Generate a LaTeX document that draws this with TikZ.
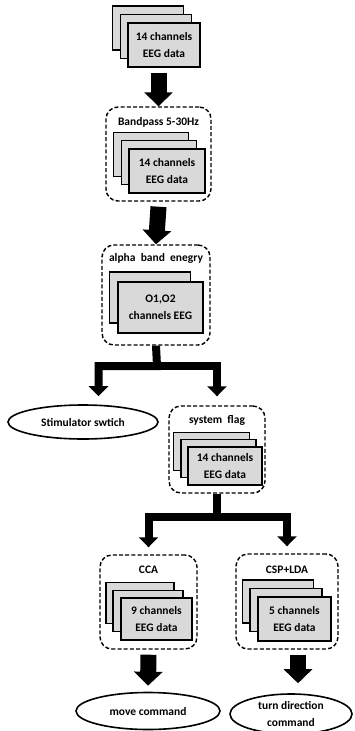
\documentclass[tikz,border=0pt]{standalone}
\usepackage{fontspec}
\setmainfont{Carlito}
\usetikzlibrary{arrows.meta,positioning,shapes.geometric}

\begin{document}
\begin{tikzpicture}[
  x=1pt,y=-1pt,
  every node/.style={font=\fontsize{11.5}{17.5}\selectfont\bfseries},
  sheet/.style={draw,line width=1.8pt,fill=black!15,align=center,inner sep=0pt},
  stagebox/.style={draw,line width=1.4pt,dash pattern=on 4pt off 2.2pt,rounded corners=12pt,inner sep=0pt},
  outbox/.style={draw,ellipse,line width=1.6pt,align=center,inner sep=0pt},
  fatarrow/.style={line width=16pt,-{Triangle[width=28pt,length=14pt]}},
  branch/.style={line width=8pt,miter limit=10,-{Triangle[width=19pt,length=10pt]}},
]
  \useasboundingbox (0,0) rectangle (354,731);

  % Raw data
  \node[sheet,minimum width=71pt,minimum height=44pt] (raw1) at (148,28) {};
  \node[sheet,minimum width=71pt,minimum height=44pt] (raw2) at (156,36.5) {};
  \node[sheet,minimum width=72pt,minimum height=44pt] (raw3) at (164,45) {14 channels\\EEG data};

  % Bandpass
  \node[stagebox,minimum width=105pt,minimum height=94pt] (bp) at (158.5,154) {};
  \node (bptitle) at (158.5,122) {Bandpass 5-30Hz};
  \node[sheet,minimum width=75pt,minimum height=44pt] (bp1) at (151,154.5) {};
  \node[sheet,minimum width=75pt,minimum height=44pt] (bp2) at (159,162.5) {};
  \node[sheet,minimum width=76pt,minimum height=44pt] (bp3) at (167,171) {14 channels\\EEG data};

  % Alpha band energy
  \node[stagebox,minimum width=108pt,minimum height=100pt] (alpha) at (156,295) {};
  \node (alphatitle) at (156,258) {alpha~ band~ enegry};
  \node[sheet,minimum width=81pt,minimum height=51pt] (al1) at (150,297.5) {};
  \node[sheet,minimum width=85pt,minimum height=51pt] (al2) at (160.5,307.5) {O1,O2\\channels EEG};

  % Stimulator switch
  \node[outbox,minimum width=150pt,minimum height=34pt] (stim) at (83,422) {Stimulator swtich};

  % System flag
  \node[stagebox,minimum width=96pt,minimum height=87pt] (flag) at (217,449.5) {};
  \node (flagtitle) at (217,420) {system~ flag};
  \node[sheet,minimum width=76pt,minimum height=38pt] (fl1) at (211.5,451.5) {};
  \node[sheet,minimum width=75pt,minimum height=38pt] (fl2) at (218.5,458.5) {};
  \node[sheet,minimum width=74pt,minimum height=38pt] (fl3) at (225,466) {14 channels\\EEG data};

  % CCA
  \node[stagebox,minimum width=97pt,minimum height=94pt] (cca) at (148.5,602) {};
  \node (ccatitle) at (148.5,570) {CCA};
  \node[sheet,minimum width=68pt,minimum height=41pt] (cc1) at (140,603) {};
  \node[sheet,minimum width=70pt,minimum height=41pt] (cc2) at (148,611) {};
  \node[sheet,minimum width=71pt,minimum height=42pt] (cc3) at (156.5,619) {9 channels\\EEG data};

  % CSP+LDA
  \node[stagebox,minimum width=102pt,minimum height=95pt] (csp) at (287,601.5) {};
  \node (csptitle) at (287,570) {CSP+LDA};
  \node[sheet,minimum width=71pt,minimum height=43pt] (cs1) at (278,601.5) {};
  \node[sheet,minimum width=72pt,minimum height=43pt] (cs2) at (286,610) {};
  \node[sheet,minimum width=73pt,minimum height=44pt] (cs3) at (294.5,619) {5 channels\\EEG data};

  % Commands
  \node[outbox,minimum width=144pt,minimum height=37pt] (move) at (148,711) {move command};
  \node[outbox,minimum width=122pt,minimum height=40pt] (turn) at (291,714) {turn direction\\command};

  % Arrows
  \draw[fatarrow] ([yshift=-5pt]raw3.south -| bp.north) -- (bp.north);
  \draw[fatarrow] ([yshift=-5pt]bp.south) -- (alpha.north);

  \coordinate (split1) at (157,366);
  \draw[branch] (alpha.south) -- (split1) -| ([xshift=15.5pt,yshift=8pt]stim.north);
  \draw[branch] (split1) -| ([yshift=9pt]flag.north);

  \coordinate (split2) at (217,517);
  \draw[branch] (flag.south) -- (split2) -| ([yshift=7pt]cca.north);
  \draw[branch] (split2) -| ([yshift=7pt]csp.north);

  \draw[fatarrow] ([yshift=-5pt]cca.south) -- ([yshift=6pt]move.north);
  \draw[fatarrow] ([xshift=11pt,yshift=-5pt]csp.south) coordinate (cspout)
    -- ([yshift=10pt]cspout |- turn.north);
\end{tikzpicture}
\end{document}
